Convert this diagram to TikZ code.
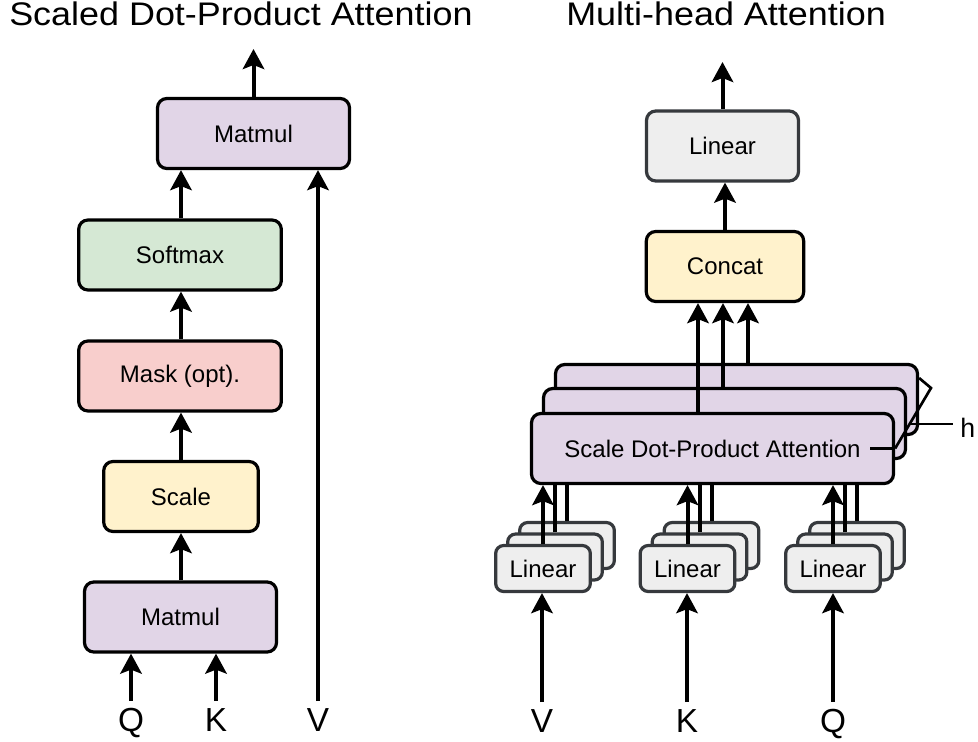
\documentclass[tikz,border=0pt]{standalone}
\usepackage{fontspec}
\usepackage{graphicx}
\setmainfont{Liberation Sans}
\usetikzlibrary{arrows.meta,calc}
\definecolor{cpurple}{HTML}{E1D5E7}
\definecolor{cgreen}{HTML}{D5E8D4}
\definecolor{cred}{HTML}{F8CECC}
\definecolor{cyellow}{HTML}{FFF2CC}
\definecolor{cgray}{HTML}{EEEEEE}
\definecolor{cdark}{HTML}{36393D}
\begin{document}
\begin{tikzpicture}[x=0.75pt,y=-0.75pt,
  box/.style={draw=black, line width=2.4pt, rounded corners=7pt, minimum height=52.5pt,
    font=\fontsize{18}{20}\selectfont, inner sep=0pt},
  linbox/.style={box, draw=cdark, fill=cgray},
  smallbox/.style={linbox, minimum width=71pt, minimum height=34.5pt, rounded corners=6pt},
  attbox/.style={box, fill=cpurple, minimum width=271.5pt},
  arr/.style={line width=3pt, -{Stealth[length=15pt,width=16pt,inset=3pt]}},
  inarr/.style={arr, shorten <=5pt},
  plain/.style={line width=3pt},
  lbl/.style={font=\fontsize{25}{27}\selectfont, anchor=base, inner sep=0pt},
  title/.style={font=\fontsize{24.5}{26}\selectfont, anchor=base west, inner sep=0pt},
]
\useasboundingbox (0,0) rectangle (978,742);

% titles
\node[title] (t1) at (9,26) {\scalebox{1.1}[1]{Scaled Dot-Product Attention}};
\node[title] (t2) at (566,26) {\scalebox{1.1}[1]{Multi-head Attention}};

% ---------- left: scaled dot-product attention ----------
\node[box, fill=cpurple, minimum width=144pt] (mm2) at (253.5,133.5) {Matmul};
\node[box, fill=cgreen, minimum width=152pt] (soft) at (180,255) {Softmax};
\node[box, fill=cred, minimum width=152pt] (mask) at (180,376) {Mask (opt).};
\node[box, fill=cyellow, minimum width=116pt] (scale) at (181,496.5) {Scale};
\node[box, fill=cpurple, minimum width=144pt] (mm1) at (180.5,617) {Matmul};

\node[lbl] (q1) at (131,731) {Q};
\node[lbl] (k1) at (216,731) {K};
\node[lbl] (v1) at (318,731) {V};
\coordinate (out1) at (253,49);

\draw[inarr] (q1.north) -- (q1.north |- mm1.south);
\draw[inarr] (k1.north) -- (k1.north |- mm1.south);
\draw[inarr] (v1.north) -- (v1.north |- mm2.south);
\draw[arr] (scale.south |- mm1.north) -- (scale.south);
\draw[arr] (scale.north) -- (scale.north |- mask.south);
\draw[arr] (scale.north |- mask.north) -- (scale.north |- soft.south);
\draw[arr] (scale.north |- soft.north) -- (scale.north |- mm2.south);
\draw[arr] (mm2.north) -- (mm2.north |- out1);

% ---------- right: multi-head attention ----------
\node[linbox, minimum width=114pt] (lintop) at (722.5,146) {Linear};
\node[box, fill=cyellow, minimum width=118pt] (concat) at (725,266.5) {Concat};

\node[attbox] (a3) at (736.5,399.5) {};
\node[attbox] (a2) at (724.5,423.5) {};
\node[attbox] (a1) at (712.5,448.5) {Scale Dot-Product Attention};

% linear stacks
\foreach \i/\cx in {1/543, 2/687.5, 3/833} {
  \node[smallbox] (l\i c) at (\cx+24,545.5) {};
  \node[smallbox] (l\i b) at (\cx+12,557) {};
  \node[smallbox] (l\i a) at (\cx,568.5) {Linear};
  \draw[arr] (l\i a.north) -- (l\i a.north |- a1.south);
  \draw[plain] (l\i b.north) -- (l\i b.north |- a1.south);
  \draw[plain] (l\i c.north) -- (l\i c.north |- a1.south);
}

\node[lbl] (v2) at (542,732) {V};
\node[lbl] (k2) at (687,732) {K};
\node[lbl] (q2) at (833,732) {Q};
\draw[inarr] (v2.north) -- (v2.north |- l1a.south);
\draw[inarr] (k2.north) -- (k2.north |- l2a.south);
\draw[inarr] (q2.north) -- (q2.north |- l3a.south);

% heads to concat
\coordinate (cx1) at (698,0);
\coordinate (cx2) at (723,0);
\coordinate (cx3) at (748,0);
\draw[arr] (cx1 |- a1.north) -- (cx1 |- concat.south);
\draw[arr] (cx2 |- a2.north) -- (cx2 |- concat.south);
\draw[arr] (cx3 |- a3.north) -- (cx3 |- concat.south);

\draw[arr] (concat.north) -- (concat.north |- lintop.south);
\coordinate (out2) at (723,62);
\draw[arr] (lintop.north) -- (lintop.north |- out2);

% bracket and h
\coordinate (b0) at (870,448.5);
\coordinate (b2) at (931,388);
\coordinate (b3) at ($(a3.east)+(0,-21.5)$);
\draw[line width=2.4pt] (b0) -- (a1.east);
\draw[line width=2pt, line join=miter] (a1.east) -- (b2) -- (b3);
\node[font=\fontsize{20}{22}\selectfont, anchor=base west, inner sep=0pt] (h) at (960,437) {h};
\coordinate (hp) at ($(a1.east)!0.405!(b2)$);
\draw[line width=1pt, shorten >=5pt] (hp) -- (hp -| h.west);
\end{tikzpicture}
\end{document}
